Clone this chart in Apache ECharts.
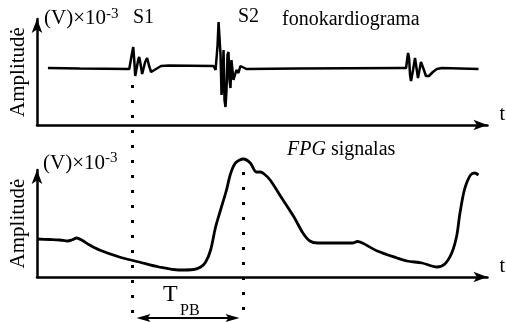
<!DOCTYPE html>
<html>
<head>
<meta charset="utf-8">
<title>Fonokardiograma ir FPG signalas</title>
<script src="https://cdn.jsdelivr.net/npm/echarts@6/dist/echarts.min.js"></script>
<style>html,body{margin:0;padding:0;background:#fff;}</style>
</head>
<body>
<div id="main" style="width:506px;height:322px;"></div>
<script type="text/javascript">
// fonokardiograma (virsutinis signalas)
var pcgTime = [11, 43, 93, 95, 96, 97, 98, 99, 100, 102, 103, 104, 106, 107, 109, 111, 113, 115, 117, 120, 125, 133,
    178, 180, 181, 182, 183, 184, 185, 186, 187, 188, 189, 190, 191, 192, 193, 194, 195, 196, 197, 198, 199, 201, 203, 205, 207, 211,
    263, 368, 372, 373, 374, 375, 376, 377, 379, 381, 382, 384, 385, 387, 388, 390, 392, 395, 399, 403, 408, 445];
var pcgAmp = [57, 56.5, 56, 56, 73, 78, 65, 49, 50, 65, 68, 63, 51, 50, 63, 67, 59, 53, 53, 56, 59, 59.5,
    59, 55, 53, 80, 103, 105, 70, 30, 43, 75, 25, 18, 35, 70, 73, 45, 37, 65, 67, 45, 43, 55, 52, 59, 57, 56,
    56.5, 57, 57, 65, 72, 67, 50, 44, 55, 67, 65, 47, 46, 63, 65, 55, 49, 49, 53, 56, 57, 56];

// FPG signalas (apatinis signalas)
var ppgTime = [0, 13, 23, 31, 35, 40, 45, 53, 63, 83, 103, 123, 143, 158, 165, 170, 175, 180, 185, 191, 195, 200,
    208, 215, 221, 225, 229, 235, 246, 259, 268, 275, 283, 303, 318, 323, 328, 343, 363, 373, 388, 403, 411, 418,
    423, 426, 430, 433, 437, 441, 445];
var ppgAmp = [38, 37.5, 37, 36, 37, 39, 37, 32, 27, 20, 15, 10, 7, 7.5, 10, 15, 27, 50, 67, 87, 103, 114,
    118, 114, 105, 105, 103, 97, 80, 60, 44, 36, 34, 34, 34, 35.5, 34, 26, 19, 16, 14, 10, 13, 24,
    41, 62, 84, 94, 102, 104, 102];

// S1 ir S2 laiko momentai
var tS1 = 96;
var tS2 = 208;

var serif = '"Liberation Serif", "Times New Roman", serif';

function pairs(xs, ys) {
    var out = [];
    for (var i = 0; i < xs.length; i++) out.push([xs[i], ys[i]]);
    return out;
}

function xAxisCfg(idx) {
    return {
        gridIndex: idx, type: 'value', min: 0, max: 454,
        axisLine: {show: true, onZero: false, symbol: ['none', 'arrow'], symbolSize: [8, 14],
            lineStyle: {color: '#000', width: 2.5}},
        axisTick: {show: false}, axisLabel: {show: false}, splitLine: {show: false},
        name: 't', nameLocation: 'end', nameGap: 12,
        nameTextStyle: {fontFamily: serif, fontSize: 20, color: '#000', align: 'left', verticalAlign: 'bottom'}
    };
}

function yAxisCfg(idx, max) {
    return {
        gridIndex: idx, type: 'value', min: 0, max: max,
        axisLine: {show: true, onZero: false, symbol: ['none', 'arrow'], symbolSize: [8, 14],
            lineStyle: {color: '#000', width: 2.5}},
        axisTick: {show: false}, axisLabel: {show: false}, splitLine: {show: false},
        name: 'Amplitudė', nameLocation: 'middle', nameGap: 8, nameRotate: 90,
        nameTextStyle: {fontFamily: serif, fontSize: 21, color: '#000'}
    };
}

var myChart = echarts.init(document.getElementById('main'));
var option = {
    animation: false,
    backgroundColor: '#fff',
    grid: [
        {left: 37, right: 15, top: 19, bottom: 197},
        {left: 37, right: 15, top: 170, bottom: 45}
    ],
    xAxis: [xAxisCfg(0), xAxisCfg(1)],
    yAxis: [yAxisCfg(0, 106), yAxisCfg(1, 107)],
    series: [
        {
            name: 'fonokardiograma', type: 'line', xAxisIndex: 0, yAxisIndex: 0,
            data: pairs(pcgTime, pcgAmp), showSymbol: false, symbol: 'none', clip: false,
            lineStyle: {color: '#000', width: 2.5}
        },
        {
            name: 'FPG signalas', type: 'line', xAxisIndex: 1, yAxisIndex: 1,
            data: pairs(ppgTime, ppgAmp), showSymbol: false, symbol: 'none', clip: false,
            smooth: 0.3,
            lineStyle: {color: '#000', width: 2.8}
        }
    ]
};
myChart.setOption(option);

// anotacijos: punktyrai, T_PB rodykle ir uzrasai
var x1 = Math.round(myChart.convertToPixel({xAxisIndex: 0}, tS1)) + 0.5;
var x2 = Math.round(myChart.convertToPixel({xAxisIndex: 1}, tS2)) + 0.5;
var dots = {stroke: '#000', lineWidth: 3, lineDash: [3, 12]};
var ya = 318;

function txt(x, y, s, size, extra) {
    var st = {text: s, x: x, y: y, fill: '#000', font: size + 'px ' + serif, verticalAlign: 'middle', align: 'left'};
    for (var k in extra) st[k] = extra[k];
    return {type: 'text', style: st};
}

myChart.setOption({
    graphic: [
        {type: 'line', shape: {x1: x1, y1: 85, x2: x1, y2: 322}, style: dots},
        {type: 'line', shape: {x1: x2, y1: 172, x2: x2, y2: 322}, style: dots},
        {type: 'line', shape: {x1: x1 + 10, y1: ya, x2: x2 - 10, y2: ya}, style: {stroke: '#000', lineWidth: 2}},
        {type: 'polygon', shape: {points: [[x1 + 4, ya], [x1 + 18, ya - 4], [x1 + 15, ya], [x1 + 18, ya + 4]]}, style: {fill: '#000'}},
        {type: 'polygon', shape: {points: [[x2 - 4, ya], [x2 - 18, ya - 4], [x2 - 15, ya], [x2 - 18, ya + 4]]}, style: {fill: '#000'}},
        txt(163, 295, 'T', 24),
        txt(180, 311, 'PB', 16),
        txt(44, 18, '(V)×10', 21),
        txt(106, 14, '-3', 15),
        txt(133, 18, 'S1', 20),
        txt(238, 17, 'S2', 20),
        txt(282, 20, 'fonokardiograma', 20),
        txt(43, 163, '(V)×10', 21),
        txt(105, 158, '-3', 15),
        {type: 'text', style: {x: 287, y: 150, fill: '#000', verticalAlign: 'middle',
            text: '{i|FPG} signalas',
            rich: {i: {fontStyle: 'italic', fontFamily: serif, fontSize: 20}},
            font: '20px ' + serif}}
    ]
});
</script>
</body>
</html>
